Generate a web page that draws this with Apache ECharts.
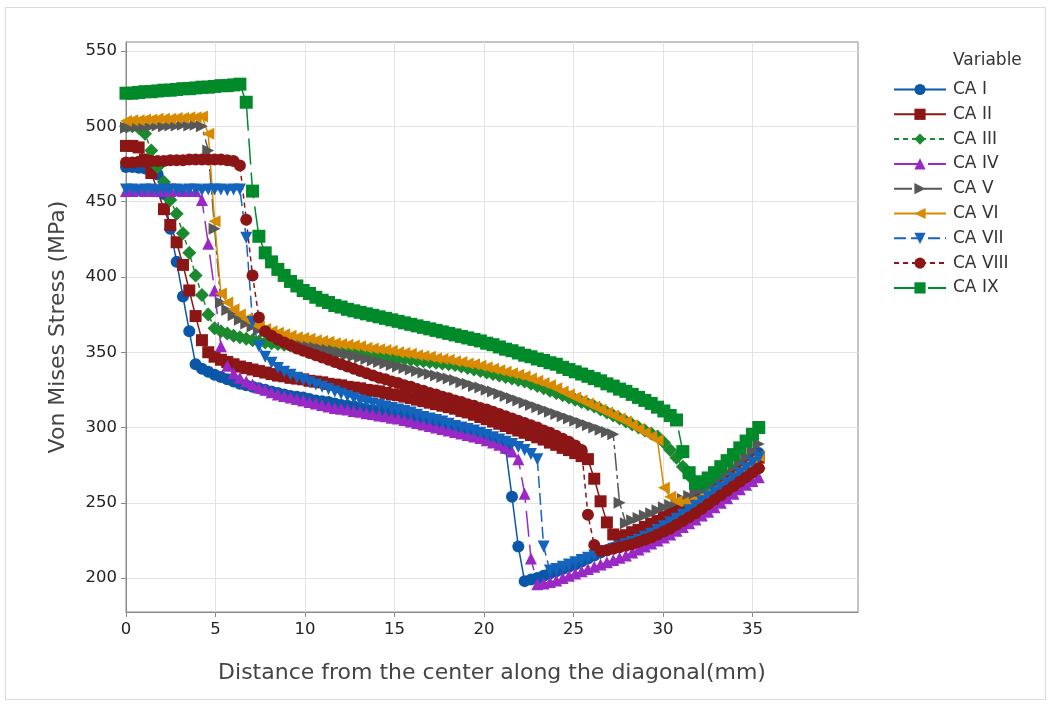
<!DOCTYPE html>
<html><head><meta charset="utf-8">
<script src="https://cdn.jsdelivr.net/npm/echarts@6/dist/echarts.min.js"></script>
<style>
html,body{margin:0;padding:0;background:#fff}
#c{width:1051px;height:706px}
#frame{position:absolute;left:5px;top:7px;width:1039px;height:691px;border:1px solid #dcdcdc;pointer-events:none}
</style>
</head><body><div id="c"></div><div id="frame"></div>
<script>
// distance from centre along the diagonal (mm), sampling positions
const distance = [0,0.354,0.707,1.061,1.414,1.768,2.121,2.475,2.828,3.182,3.536,3.889,4.243,4.596,4.950,5.303,5.657,6.010,6.364,6.718,
7.071,7.425,7.778,8.132,8.485,8.839,9.192,9.546,9.899,10.253,10.607,10.960,11.314,11.667,12.021,12.374,12.728,13.081,13.435,13.789,
14.142,14.496,14.849,15.203,15.556,15.910,16.263,16.617,16.971,17.324,17.678,18.031,18.385,18.738,19.092,19.445,19.799,20.153,20.506,20.860,
21.213,21.567,21.920,22.274,22.627,22.981,23.335,23.688,24.042,24.395,24.749,25.102,25.456,25.810,26.163,26.517,26.870,27.224,27.577,27.931,
28.284,28.638,28.991,29.345,29.698,30.052,30.406,30.759,31.113,31.466,31.820,32.173,32.527,32.880,33.234,33.588,33.941,34.295,34.648,35.002,35.355];

const caI = [473,473,472.5,472,471,468,455,432,410,387,364,342,
339,337,335,333.5,332,330.5,329,328,327,326,325,324,323,322,321,320.5,320,319,318,317.5,317,316,315,314.5,314,313,312,311.5,311,310,309,308.5,308,307,306,305,304,303,302,301,300,299,298,297,295.5,294,292.5,290.5,286,
254,221,198,
199,200,201.5,203,204.5,206,207.5,209,211,213,215,217,218.5,220,221.5,222.5,224,226,228,230.5,233,235.5,238,240.5,243.5,246.5,249.5,252.5,255.5,258.5,261.5,265,268.5,272,275.5,279,283];

const caII = [487,487,486,478,469,457,445,434.5,423,408,391,374,358,
350,347,345,343.5,342,340.5,339.5,338.5,337.5,336.5,335.5,334.5,334,333,332.5,332,331,330.5,330,329,328.5,328,327,326.5,326,325,324.5,324,323,322,321.5,320.5,319.5,318.5,317.5,316.5,315.5,314.5,313.5,312.5,311,310,308.5,307,305.5,304,302.5,301,299.5,298,296.5,295,293.5,292,290,288.5,286.5,285,283,281,279,
266,251,237,229,
227.5,228.5,230.5,232,234,236,238,240.5,243,245.5,248,250,252.5,255,257.5,260,262.5,265,267.5,270.5,273.5,276.5,280];

const caIII = [500,500,499,495,484,473,463,451,442,429,416,401,388,375,
366,364,362.5,361,360,359,358,357,356.5,356,355.5,355,354.5,354,353.5,353,352.5,352,351.5,351,350.5,350,349.5,349,348.5,348,347.5,347,346.5,346,345.5,345,344.5,344,343.5,343,342.5,342,341.5,340.5,339.5,338.5,337.5,336.5,335.5,334.5,333.5,332.5,331.5,330.5,329,327.5,326,324.5,323,321.5,320,318.5,317,315.5,314,312,310,308,306,304,302,300,298,296,
294,290,285,280,274,268,263,259,257,257.5,258.5,260,262,264.5,267,270,273];

const caIV = [457,457,457.5,457,457,457.5,457,457,457.5,457,457,457,
451,422,391,354,341,
336,333,330.5,328.5,326.5,325,323.5,322,321,320,319,318,317,316,315,314,313,312.5,312,311,310.5,309.5,309,308,307.5,306.5,306,305,304,303,302,301,300,299,298,297,296,295,294,293,291.5,290,288.5,286.5,284,279,
256,213,196,
196.5,197.5,198.5,200,201.5,203,204.5,206,207.5,209,210.5,212,213.5,215,217,219,221,223,225,227,229,231.5,234,236.5,239,241.5,244,247,250,253,256,259,262,264.5,267];

const caV = [499,499.5,500,500,500,500.5,500,500.5,500.5,501,500.5,501,500,
484,432,383,
378,374.5,371.5,369,367,365,363.5,362,360.5,359,357.5,356.5,355.5,354.5,353.5,352.5,351.5,350.5,349.5,348.5,347.5,346.5,345.5,344.5,343.5,342.5,341.5,340.5,339.5,338.5,337.5,336.5,335.5,334.5,333.5,332.5,331.5,330,329,327.5,326.5,325,324,322.5,321,319.5,318,316.5,315,313.5,312,310.5,309,307.5,306,304.5,303,301.5,300,298.5,297,295.5,
250,236.5,238.5,240,241.5,243,245,247,248.5,250.5,252.5,254.5,257,259.5,262,264.5,267,270,273.5,277,280.5,284.5,289];

const caVI = [503.5,504,504,504.5,504.5,505,505,505,505.5,505.5,506,506,506.5,
495,437,
389,383,378.5,375,372,369.5,367,365.5,364,363,362,361,360,359.5,359,358,357.5,357,356,355.5,355,354.5,354,353,352.5,352,351.5,351,350,349.5,349,348,347.5,347,346,345.5,345,344,343.5,342.5,342,341,340,339,338,337,336,335,334,332.5,331,329.5,328,326,324,322,320,318,316,314,312,310,308,306,304,301.5,299,296.5,294,291.5,
260,254,251,250,250.5,252,254,256,258.5,261,264,267,270.5,274,277.5,281];

const caVII = [458,458,457.5,458,458,457.5,458,458,458,457.5,458,458,457.5,458,458,458,457.5,458,458,
426,370,
354,347,343,339.5,337,335,333,331.5,330,328.5,327,325.5,324,322.5,321,319.5,318,317,316,315,314,313,312,311,310,308.5,307,306,305,304,302.5,301,300,299,298,296.5,295,293.5,292,290.5,289,287,285,282.5,279,
221,205,206,207.5,209,210.5,212,213.5,215,216.5,218,219.5,221,222.5,224,225.5,227.5,229.5,232,234.5,237,239.5,242,245,248,251,254,257,260,263,266,269.5,273,276.5,280];

const caVIII = [476,476,476.5,476.5,477,477,477,477.5,477.5,477.5,478,478,478,478,478,478,477.5,477,
474,438,401,
373,364,361,358.5,356.5,354.5,352.5,351,349.5,348,346.5,345,343.5,342,340.5,339,337.5,336,334.5,333,332,330.5,329.5,328,327,325.5,324.5,323,322,320.5,319.5,318,317,315.5,314.5,313,312,310.5,309,307.5,306,304.5,303,301.5,300,298,296.5,294.5,292.5,290.5,288,285,
242,222,218,218.5,219.5,220.5,221.5,222.5,224,225.5,227,229,231,233,235.5,238,240.5,243,246,249,252,255,258,261,264,267,270,273];

const caIX = [522,522,522.5,523,523,523.5,524,524,524.5,525,525,525.5,526,526,526.5,527,527,527.5,528,
516,457,427,416,
410,405,401,397,394,391,389,386.5,384.5,383,381,380,378.5,377.5,376.5,375.5,374.5,373.5,372.5,371.5,370.5,369.5,368.5,367.5,366.5,365.5,364.5,363.5,362.5,361.5,360.5,359.5,358.5,357.5,356,355,353.5,352,351,349.5,348,347,345.5,344.5,343,342,340,338.5,337,335.5,334,332.5,331,329,327.5,325.5,324,322,320,318,316,313.5,311,308,305,
284,270,263,264,266.5,270,274,278,282,286.5,291,295.5,300];

const seriesNames = ['CA I','CA II','CA III','CA IV','CA V','CA VI','CA VII','CA VIII','CA IX'];
const seriesValues = [caI, caII, caIII, caIV, caV, caVI, caVII, caVIII, caIX];
const xTicks = [0,5,10,15,20,25,30,35];
const yTicks = [200,250,300,350,400,450,500,550];

// styling (kept separate from the data)
const looks = [
  {color:'#0a56a8', symbol:'circle',   size:12, rot:0,   dash:'solid'},
  {color:'#8c1515', symbol:'rect',     size:12, rot:0,   dash:'solid'},
  {color:'#1b8a2e', symbol:'diamond',  size:14, rot:0,   dash:[5,4]},
  {color:'#9a28c4', symbol:'triangle', size:12, rot:0,   dash:[26,8]},
  {color:'#575757', symbol:'triangle', size:12, rot:-90, dash:[18,4,4,4]},
  {color:'#d88a00', symbol:'triangle', size:12, rot:90,  dash:'solid'},
  {color:'#1464bd', symbol:'triangle', size:12, rot:180, dash:[12,5]},
  {color:'#8c1515', symbol:'circle',   size:12, rot:0,   dash:[5,4]},
  {color:'#008a2a', symbol:'rect',     size:13, rot:0,   dash:[26,8]}
];

const FONT = 'DejaVu Sans';
const series = seriesNames.map((name, s) => ({
  name,
  type: 'line',
  data: distance.map((x, k) => [x, seriesValues[s][k]]),
  symbol: looks[s].symbol,
  symbolSize: looks[s].size,
  symbolRotate: looks[s].rot,
  showSymbol: true,
  showAllSymbol: true,
  lineStyle: {color: looks[s].color, width: 1.5, type: looks[s].dash},
  itemStyle: {color: looks[s].color, borderWidth: 0},
  emphasis: {disabled: true},
  animation: false,
  z: 2
}));

const chart = echarts.init(document.getElementById('c'), null, {renderer: 'canvas'});
chart.setOption({
  backgroundColor: '#fff',
  animation: false,
  grid: {left: 126, top: 42, width: 732, height: 570, show: true, borderColor: '#8a8a8a', borderWidth: 1, backgroundColor: 'transparent'},
  xAxis: {
    type: 'value', min: 0, max: 40.9,
    axisLine: {show: true, onZero: false, lineStyle: {color: '#8a8a8a', width: 1}},
    axisTick: {show: true, inside: false, length: 5, customValues: xTicks, lineStyle: {color: '#8a8a8a'}},
    axisLabel: {customValues: xTicks, color: '#222', fontSize: 16.5, fontFamily: FONT, margin: 9},
    splitLine: {show: true, lineStyle: {color: '#e3e3e3', width: 1}},
    name: 'Distance from the center along the diagonal(mm)',
    nameLocation: 'middle', nameGap: 50,
    nameTextStyle: {fontSize: 22, fontFamily: FONT, color: '#444'}
  },
  yAxis: {
    type: 'value', min: 177.5, max: 556,
    axisLine: {show: true, onZero: false, lineStyle: {color: '#8a8a8a', width: 1}},
    axisTick: {show: true, inside: false, length: 5, customValues: yTicks, lineStyle: {color: '#8a8a8a'}},
    axisLabel: {customValues: yTicks, color: '#222', fontSize: 16.5, fontFamily: FONT, margin: 9},
    splitLine: {show: true, lineStyle: {color: '#e3e3e3', width: 1}},
    name: 'Von Mises Stress (MPa)',
    nameLocation: 'middle', nameGap: 57, nameRotate: 90,
    nameTextStyle: {fontSize: 22, fontFamily: FONT, color: '#444'}
  },
  legend: {
    orient: 'vertical', left: 888, top: 76,
    itemWidth: 52, itemHeight: 14, itemGap: 7.8,
    data: seriesNames,
    textStyle: {fontSize: 17, fontFamily: FONT, color: '#333', lineHeight: 17, padding: [0, 0, 0, 2]},
    selectedMode: false
  },
  graphic: [{
    type: 'text', left: 953, top: 52,
    style: {text: 'Variable', fontSize: 17, fontFamily: FONT, fill: '#333'}
  }],
  series
});
</script>
</body></html>
